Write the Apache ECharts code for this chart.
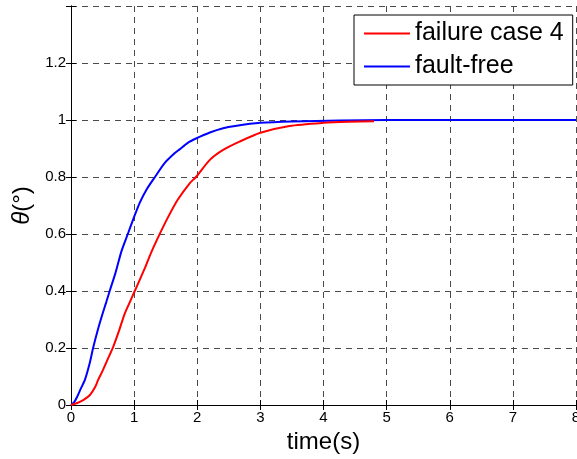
<!DOCTYPE html>
<html>
<head>
<meta charset="utf-8">
<script src="https://cdn.jsdelivr.net/npm/echarts@6/dist/echarts.min.js"></script>
<style>
  html, body { margin: 0; padding: 0; background: #fff; }
  #chart { width: 577px; height: 459px; }
</style>
</head>
<body>
<div id="chart"></div>
<script>
// Step response of the attitude angle: fault-free system vs. failure case 4
const seriesNames = ['failure case 4', 'fault-free'];

const failureTime = [0, 0.1, 0.2, 0.3, 0.38, 0.43, 0.5, 0.58, 0.67, 0.76, 0.85, 0.93, 1.01, 1.09, 1.17, 1.27, 1.41, 1.54, 1.69, 1.88, 1.98, 2.2, 2.41, 2.67, 3.0, 3.46, 4.0, 4.4, 4.8];
const failureTheta = [0, 0.007, 0.018, 0.035, 0.062, 0.088, 0.12, 0.16, 0.205, 0.26, 0.32, 0.36, 0.4, 0.44, 0.48, 0.535, 0.602, 0.66, 0.72, 0.778, 0.8, 0.86, 0.895, 0.924, 0.955, 0.979, 0.99, 0.994, 0.996];

const faultFreeTime = [0, 0.05, 0.1, 0.15, 0.22, 0.3, 0.35, 0.42, 0.5, 0.56, 0.62, 0.7, 0.8, 0.9, 1.0, 1.09, 1.2, 1.33, 1.48, 1.64, 1.72, 1.85, 1.98, 2.2, 2.41, 2.6, 3.0, 3.5, 4.26, 5.0, 8.0];
const faultFreeTheta = [0, 0.01, 0.03, 0.055, 0.088, 0.15, 0.2, 0.26, 0.32, 0.362, 0.405, 0.46, 0.54, 0.6, 0.66, 0.71, 0.757, 0.8, 0.848, 0.883, 0.897, 0.92, 0.935, 0.956, 0.971, 0.979, 0.99, 0.995, 0.998, 1.0, 1.0];

const xTicks = { min: 0, max: 8, interval: 1 };
const yTicks = { min: 0, max: 1.4, interval: 0.2 };

const zip = (xs, ys) => xs.map((x, i) => [x, ys[i]]);

const FONT = '"Liberation Sans", Arial, sans-serif';
const gridDash = { show: true, lineStyle: { color: '#4a4a4a', type: [6, 5], width: 1 } };
const frameLine = { show: true, lineStyle: { color: '#000', width: 1 } };
const tickIn = { show: true, inside: true, length: 5, lineStyle: { color: '#000' } };

const chart = echarts.init(document.getElementById('chart'), null, { renderer: 'canvas' });

chart.setOption({
  backgroundColor: '#fff',
  animation: false,
  grid: { left: 71, right: 1, top: 6, bottom: 54, containLabel: false, outerBoundsMode: 'none' },
  legend: {
    data: [
      { name: seriesNames[0], icon: 'rect' },
      { name: seriesNames[1], icon: 'rect' }
    ],
    orient: 'vertical',
    left: 354,
    top: 15,
    width: 218,
    padding: [6, 9, 6, 10],
    itemGap: 8,
    itemWidth: 46,
    itemHeight: 2,
    backgroundColor: '#fff',
    borderColor: '#000',
    borderWidth: 1,
    borderRadius: 0,
    textStyle: { fontFamily: FONT, fontSize: 25, color: '#000', padding: [0, 0, 0, 0], lineHeight: 25 }
  },
  xAxis: [
    {
      type: 'value',
      min: xTicks.min, max: xTicks.max, interval: xTicks.interval,
      name: 'time(s)',
      nameLocation: 'middle',
      nameGap: 25,
      nameTextStyle: { fontFamily: FONT, fontSize: 24, color: '#000' },
      axisLine: frameLine,
      axisTick: tickIn,
      splitLine: gridDash,
      axisLabel: { fontFamily: FONT, fontSize: 15, color: '#000', margin: 5 }
    },
    {
      type: 'value',
      position: 'top',
      min: xTicks.min, max: xTicks.max, interval: xTicks.interval,
      axisLine: frameLine,
      axisTick: tickIn,
      splitLine: { show: false },
      axisLabel: { show: false }
    }
  ],
  yAxis: [
    {
      type: 'value',
      min: yTicks.min, max: yTicks.max, interval: yTicks.interval,
      name: '{i|θ}(°)',
      nameLocation: 'middle',
      nameGap: 37,
      nameTextStyle: {
        fontFamily: FONT, fontSize: 24, color: '#000',
        rich: { i: { fontFamily: FONT, fontSize: 24, fontStyle: 'italic', color: '#000' } }
      },
      axisLine: frameLine,
      axisTick: tickIn,
      splitLine: gridDash,
      axisLabel: {
        fontFamily: FONT, fontSize: 15, color: '#000', margin: 5,
        formatter: v => (Math.abs(v - yTicks.max) < 1e-9 ? '' : String(+v.toFixed(1)))
      }
    },
    {
      type: 'value',
      position: 'right',
      min: yTicks.min, max: yTicks.max, interval: yTicks.interval,
      axisLine: frameLine,
      axisTick: tickIn,
      splitLine: { show: false },
      axisLabel: { show: false }
    }
  ],
  series: [
    {
      name: seriesNames[0],
      type: 'line',
      data: zip(failureTime, failureTheta),
      symbol: 'none',
      smooth: 0.25,
      color: '#ff0000',
      lineStyle: { color: '#ff0000', width: 2 },
      z: 3
    },
    {
      name: seriesNames[1],
      type: 'line',
      data: zip(faultFreeTime, faultFreeTheta),
      symbol: 'none',
      smooth: 0.25,
      color: '#0000ff',
      lineStyle: { color: '#0000ff', width: 2 },
      z: 2
    }
  ]
});
</script>
</body>
</html>
